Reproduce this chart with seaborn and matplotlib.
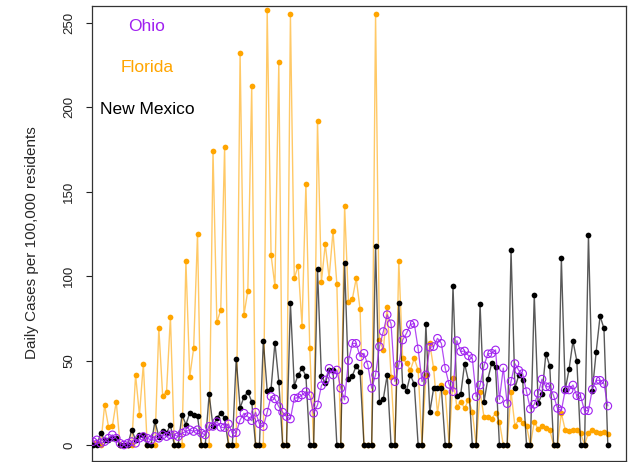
import matplotlib
matplotlib.use("Agg")
import numpy as np
import pandas as pd
import seaborn as sns
import matplotlib.pyplot as plt

# daily cases per 100,000 residents, one value per day
florida = [
    1, 1, 0, 23.7, 10.9, 11.2, 25.7, 0, 0, 0,
    0, 41.5, 17.8, 48, 0, 0, 0, 69.5, 29, 31.6,
    76, 0, 0, 0, 109, 40.5, 57.3, 125, 0, 0,
    0, 174.4, 72.7, 80, 176.7, 0, 0, 0, 232.4, 77,
    91.4, 212.7, 0, 0, 0, 258, 112.6, 94.2, 226.7, 0,
    0, 255.3, 98.7, 106.2, 70.7, 154.6, 57.3, 0, 192, 96.4,
    119, 99, 126.6, 95.4, 0, 141.8, 84.5, 86.5, 98.7, 80.4,
    0, 0, 0, 255.3, 62.2, 56.3, 82, 40.5, 0, 109,
    51.3, 48.4, 44.4, 51.3, 44.4, 0, 41.5, 60.2, 45.4, 18.8,
    35.5, 31.6, 0, 39.5, 22.7, 25.7, 21.7, 26.7, 19.7, 0,
    31.6, 16.8, 16.8, 15.6, 18.8, 13.8, 0, 0, 31.6, 11.3,
    15.2, 13.2, 11.3, 0, 13.8, 9.3, 11.3, 9.9, 8.9, 0,
    0, 18.8, 8.9, 8.3, 8.9, 8.9, 6.9, 0, 7.3, 8.9,
    7.9, 6.9, 7.9, 6.3,
]
new_mexico = [
    0, 0, 7, 3, 3, 4, 4, 0, 0, 0,
    9, 3, 6, 6, 0, 0, 14, 5, 8, 7,
    12, 0, 0, 18, 12, 19, 18, 17, 0, 0,
    30, 11, 16, 19, 16, 0, 0, 51, 22, 28.4,
    31.6, 25.7, 0, 0, 61.8, 32.2, 33.2, 60.6, 37.5, 0,
    0, 84, 35.1, 41.5, 45.4, 41, 0, 0, 104.3, 41,
    36.5, 44.4, 44.4, 0, 0, 107.8, 39, 41, 46.8, 43.4,
    0, 0, 0, 118, 25.7, 27.3, 41.5, 0, 0, 84.3,
    35, 32.2, 41.5, 35.9, 0, 0, 71.4, 19.4, 33.6, 34,
    33.6, 0, 0, 94.2, 29, 30, 48.2, 37.9, 0, 0,
    83.3, 25.3, 39, 48.4, 46, 0, 0, 0, 115.5, 33.6,
    41.5, 38.5, 0, 0, 88.8, 24.7, 30, 54.1, 46.8, 0,
    0, 110.5, 32.6, 45, 61.6, 49.7, 0, 0, 124.6, 32,
    55.3, 76.4, 69.1, 0,
]
ohio = [
    2, 3, 1, 2, 4, 6, 4, 1, 0, 1,
    2, 1, 4, 5, 4, 3, 5, 4, 6, 5,
    6, 6, 5, 7, 8, 9, 8, 9, 7, 6,
    11, 11, 13.8, 10.5, 10.3, 12.5, 6.9, 7.3, 14.8, 18.8,
    16.8, 14.4, 19.4, 12.5, 10.9, 19.4, 28.7, 27.3, 22.7, 19.4,
    16.8, 15.4, 27.7, 28, 29.6, 31.6, 29.2, 18.8, 23.7, 35.1,
    38.5, 45.4, 41.5, 44.4, 33.6, 26.7, 50, 60.2, 60.2, 52.3,
    54.3, 47.4, 33.6, 41.5, 58.3, 67.2, 77.2, 71.8, 37.5, 47.4,
    62.2, 66.2, 71.4, 72, 56.9, 37.5, 41.5, 57.9, 58.3, 63.2,
    60.2, 45.4, 35.9, 31.6, 61.8, 55.3, 55.7, 52.9, 51.3, 28.6,
    35.5, 46.8, 54, 54.3, 56.3, 26.9, 45.6, 24.5, 37.7, 48.2,
    44.2, 42.3, 31.6, 21.3, 24.1, 30.6, 39, 34.5, 34.5, 29.2,
    21.7, 20.3, 32.6, 32.6, 35.5, 29.2, 28.6, 20.3, 20.3, 33,
    38.3, 38.3, 36.3, 23.1,
]
y_ticks = [0, 50, 100, 150, 200, 250]

PURPLE = "#A020F0"
ORANGE = "#FFA500"
BLACK = "#000000"

df = pd.DataFrame({
    "day": np.arange(len(ohio)),
    "Ohio": ohio,
    "Florida": florida,
    "New Mexico": new_mexico,
})

sns.set_style("white")
plt.rcParams["font.family"] = ["Liberation Sans", "DejaVu Sans"]

fig = plt.figure(figsize=(6.28, 4.62), dpi=100)
ax = fig.add_axes([92 / 628, 1 / 462, 534 / 628, 455 / 462])

# Florida underneath, then New Mexico, Ohio on top
sns.lineplot(data=df, x="day", y="Florida", ax=ax, color=ORANGE, lw=1, alpha=0.6, zorder=1)
sns.scatterplot(data=df, x="day", y="Florida", ax=ax, color=ORANGE, s=17,
                edgecolor=ORANGE, linewidth=0, zorder=2)
sns.lineplot(data=df, x="day", y="New Mexico", ax=ax, color=BLACK, lw=1, alpha=0.65, zorder=3)
sns.scatterplot(data=df, x="day", y="New Mexico", ax=ax, color=BLACK, s=17,
                edgecolor=BLACK, linewidth=0, zorder=4)
sns.lineplot(data=df, x="day", y="Ohio", ax=ax, color=PURPLE, lw=0.9, alpha=0.8, zorder=5)
sns.scatterplot(data=df, x="day", y="Ohio", ax=ax, facecolors="none",
                edgecolor=PURPLE, s=30, linewidth=0.8, zorder=6)

ax.set_xlim(-0.26, 137.7)
ax.set_ylim(-9.5, 260.1)
ax.set_xlabel("")
ax.set_ylabel("")
ax.set_xticks([])
ax.set_yticks(y_ticks)
ax.tick_params(axis="y", left=True, direction="out", length=4, width=0.8,
               pad=8, labelsize=9.5, colors="#222222")
plt.setp(ax.get_yticklabels(), rotation=90, va="center")
for sp in ax.spines.values():
    sp.set_visible(True)
    sp.set_color("#333333")
    sp.set_linewidth(0.9)

fig.text(32 / 628, 1 - 243 / 462, "Daily Cases per 100,000 residents",
         rotation=90, ha="center", va="center", fontsize=11)

# state labels in place of a legend
fig.text(147 / 628, 1 - 30.7 / 462, "Ohio", color=PURPLE, ha="center", va="baseline", fontsize=12.5)
fig.text(147 / 628, 1 - 72.3 / 462, "Florida", color=ORANGE, ha="center", va="baseline", fontsize=12.5)
fig.text(147 / 628, 1 - 114.3 / 462, "New Mexico", color=BLACK, ha="center", va="baseline", fontsize=12.5)

fig.savefig("out.png", dpi=100)
